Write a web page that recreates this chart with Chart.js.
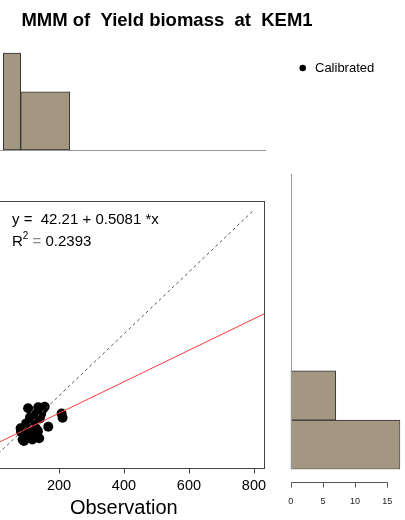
<!DOCTYPE html>
<html>
<head>
<meta charset="utf-8">
<script src="https://cdn.jsdelivr.net/npm/chart.js@4.4.1/dist/chart.umd.min.js"></script>
<style>
  html, body { margin: 0; padding: 0; background: #fff; width: 405px; height: 520px; overflow: hidden; position: relative; }
  canvas { position: absolute; top: 0; }
  #topHist, #rightHist { left: 0; }
  #main { left: -40px; }
</style>
</head>
<body>
<canvas id="topHist" width="405" height="520"></canvas>
<canvas id="rightHist" width="405" height="520"></canvas>
<canvas id="main" width="445" height="520"></canvas>
<script>
// Observed vs simulated yield biomass
const observed  = [105, 136, 150, 156, 208, 211, 131, 145, 141, 121, 111,  99, 129, 167,  82, 101, 116, 135,  83,  95,  92,  88, 118, 139];
const simulated = [160, 163, 157, 165, 143, 129, 143, 141, 127, 119, 131, 111,  95, 100,  95,  89,  79,  86,  84,  68,  54,  59,  59,  63];

// Linear fit reported on the plot
const fitIntercept = 42.21;
const fitSlope = 0.5081;
const fitR2 = 0.2393;

// 1:1 reference segment
const identityRange = [0, 800];

// Axis ticks
const xTicks = [0, 200, 400, 600, 800];
const countTicks = [0, 5, 10, 15];

// Marginal histograms (bin edges and counts)
const topBinEdges = [0, 100, 200, 300, 400, 500, 600];
const topCounts   = [15, 9, 0, 0, 0, 0];
const rightBinEdges = [0, 100, 200, 300, 400, 500, 600];
const rightCounts   = [17, 7, 0, 0, 0, 0];

const titleText = 'MMM of  Yield biomass  at  KEM1';
const xTitle = 'Observation';
const seriesName = 'Calibrated';

const FONT = '"Liberation Sans", Arial, Helvetica, sans-serif';
const BAR_FILL = '#a39781';
const BAR_EDGE = '#333';

function binBars(edges, counts, horizontal) {
  const out = [];
  counts.forEach((c, i) => {
    if (c > 0) {
      const mid = (edges[i] + edges[i + 1]) / 2;
      out.push(horizontal ? { x: c, y: mid } : { x: mid, y: c });
    }
  });
  return out;
}

function edgeTicks(edges) {
  return function (scale) { scale.ticks = edges.map(v => ({ value: v })); };
}

const common = {
  responsive: false,
  devicePixelRatio: 1,
  animation: false,
  events: [],
  plugins: { legend: { display: false }, tooltip: { enabled: false }, title: { display: false } }
};

// ---- top histogram (observations) ----
new Chart(document.getElementById('topHist'), {
  type: 'bar',
  data: {
    datasets: [{
      data: binBars(topBinEdges, topCounts, false),
      backgroundColor: BAR_FILL,
      borderColor: BAR_EDGE,
      borderWidth: 1,
      borderSkipped: false,
      barPercentage: 1,
      categoryPercentage: 1,
      clip: { left: 0, top: 4, right: 4, bottom: 4 }
    }]
  },
  options: Object.assign({}, common, {
    layout: { padding: { left: 3, right: 139, top: 53, bottom: 370 } },
    scales: {
      x: { type: 'linear', min: 64, max: 600, offset: false, display: false, afterBuildTicks: edgeTicks(topBinEdges) },
      y: { type: 'linear', min: 0, max: 15, display: false }
    }
  }),
  plugins: [{
    id: 'topHistDecor',
    afterDatasetsDraw(chart) {
      const ctx = chart.ctx, ca = chart.chartArea;
      ctx.save();
      // edge where the first bin is cut by the plot region
      chart.getDatasetMeta(0).data.forEach(bar => {
        const p = bar.getProps(['x', 'y', 'base', 'width'], true);
        if (p.x - p.width / 2 < ca.left) {
          ctx.fillStyle = BAR_EDGE;
          ctx.fillRect(Math.round(ca.left), p.y, 1, p.base - p.y);
        }
      });
      // baseline
      ctx.strokeStyle = '#9a9a9a';
      ctx.lineWidth = 1;
      ctx.beginPath();
      ctx.moveTo(0, Math.round(ca.bottom) + 0.5);
      ctx.lineTo(ca.right, Math.round(ca.bottom) + 0.5);
      ctx.stroke();
      ctx.restore();
    }
  }]
});

// ---- right histogram (simulations) ----
new Chart(document.getElementById('rightHist'), {
  type: 'bar',
  data: {
    datasets: [{
      data: binBars(rightBinEdges, rightCounts, true),
      backgroundColor: BAR_FILL,
      borderColor: BAR_EDGE,
      borderWidth: 1,
      borderSkipped: false,
      barPercentage: 1,
      categoryPercentage: 1
    }]
  },
  options: Object.assign({}, common, {
    indexAxis: 'y',
    layout: { padding: { left: 290.7, right: 4.8, top: 174, bottom: 50.7 } },
    scales: {
      x: { type: 'linear', min: 0, max: 17, display: false },
      y: { type: 'linear', min: 0, max: 600, offset: false, display: false, afterBuildTicks: edgeTicks(rightBinEdges) }
    }
  }),
  plugins: [{
    id: 'rightHistDecor',
    afterDraw(chart) {
      const ctx = chart.ctx, ca = chart.chartArea, xs = chart.scales.x;
      ctx.save();
      ctx.lineWidth = 1;
      ctx.strokeStyle = '#9a9a9a';
      const lx = Math.round(ca.left) + 0.5;
      ctx.beginPath();
      ctx.moveTo(lx, ca.top);
      ctx.lineTo(lx, ca.bottom);
      ctx.stroke();
      // count axis
      const ay = Math.round(ca.bottom) + 13.5;
      const x0 = Math.round(xs.getPixelForValue(countTicks[0])) + 0.5;
      const x1 = Math.round(xs.getPixelForValue(countTicks[countTicks.length - 1])) + 0.5;
      ctx.strokeStyle = '#555';
      ctx.beginPath();
      ctx.moveTo(x0, ay);
      ctx.lineTo(x1, ay);
      countTicks.forEach(v => {
        const px = Math.round(xs.getPixelForValue(v)) + 0.5;
        ctx.moveTo(px, ay);
        ctx.lineTo(px, ay + 5);
      });
      ctx.stroke();
      ctx.fillStyle = '#222';
      ctx.font = '9px ' + FONT;
      ctx.textAlign = 'center';
      ctx.textBaseline = 'middle';
      countTicks.forEach(v => ctx.fillText(String(v), xs.getPixelForValue(v), ay + 19));
      ctx.restore();
    }
  }]
});

// ---- main scatter ----
const xLimits = [-32, 831];
const yLimits = [-33, 829];
const points = observed.map((o, i) => ({ x: o, y: simulated[i] }));

new Chart(document.getElementById('main'), {
  type: 'scatter',
  data: {
    datasets: [
      {
        type: 'line',
        data: identityRange.map(v => ({ x: v, y: v })),
        borderColor: '#555',
        borderWidth: 1,
        borderDash: [3, 3],
        pointRadius: 0,
        fill: false
      },
      {
        type: 'line',
        data: xLimits.map(v => ({ x: v, y: fitIntercept + fitSlope * v })),
        borderColor: '#ff3a3a',
        borderWidth: 1,
        pointRadius: 0,
        fill: false,
        clip: 0
      },
      {
        type: 'scatter',
        label: seriesName,
        data: points,
        backgroundColor: '#000',
        borderColor: '#000',
        borderWidth: 0,
        pointRadius: 5
      }
    ]
  },
  options: Object.assign({}, common, {
    layout: { padding: { left: 23.6, right: 141, top: 201, bottom: 52 } },
    scales: {
      x: { type: 'linear', min: xLimits[0], max: xLimits[1], display: false },
      y: { type: 'linear', min: yLimits[0], max: yLimits[1], display: false }
    }
  }),
  plugins: [{
    id: 'mainDecor',
    afterDraw(chart) {
      const ctx = chart.ctx, ca = chart.chartArea, xs = chart.scales.x;
      const off = 40; // canvas starts 40px left of the page
      ctx.save();
      // plot frame
      ctx.strokeStyle = '#444';
      ctx.lineWidth = 1;
      ctx.strokeRect(Math.round(ca.left) + 0.5, Math.round(ca.top) + 0.5,
                     Math.round(ca.right - ca.left), Math.round(ca.bottom - ca.top));
      // x ticks
      const by = Math.round(ca.bottom) + 0.5;
      ctx.beginPath();
      xTicks.forEach(v => {
        const px = Math.round(xs.getPixelForValue(v)) + 0.5;
        ctx.moveTo(px, by);
        ctx.lineTo(px, by + 5);
      });
      ctx.stroke();
      ctx.fillStyle = '#000';
      ctx.textAlign = 'center';
      ctx.textBaseline = 'middle';
      ctx.font = '14.5px ' + FONT;
      xTicks.forEach(v => ctx.fillText(String(v), xs.getPixelForValue(v), ca.bottom + 18));
      // x title
      ctx.font = '20px ' + FONT;
      ctx.fillText(xTitle, (ca.left + ca.right) / 2, ca.bottom + 40);

      // fit annotation
      ctx.textAlign = 'left';
      ctx.textBaseline = 'alphabetic';
      ctx.font = '15px ' + FONT;
      const tx = 12 + off;
      ctx.fillText('y =  ' + fitIntercept.toFixed(2) + ' + ' + fitSlope.toFixed(4) + ' *x', tx, 224);
      let cx = tx;
      ctx.fillText('R', cx, 246);
      cx += ctx.measureText('R').width;
      ctx.font = '10px ' + FONT;
      ctx.fillText('2', cx, 239);
      cx += ctx.measureText('2').width;
      ctx.font = '15px ' + FONT;
      ctx.fillStyle = '#8a8a8a';
      ctx.fillText(' = ', cx, 246);
      cx += ctx.measureText(' = ').width;
      ctx.fillStyle = '#000';
      ctx.fillText(fitR2.toFixed(4), cx, 246);

      // title
      ctx.font = 'bold 18.5px ' + FONT;
      ctx.textAlign = 'center';
      ctx.fillText(titleText, 167 + off, 26);

      // legend
      ctx.beginPath();
      ctx.arc(302.7 + off, 68, 3.3, 0, Math.PI * 2);
      ctx.fill();
      ctx.font = '13px ' + FONT;
      ctx.textAlign = 'left';
      ctx.textBaseline = 'middle';
      ctx.fillText(seriesName, 315 + off, 68.5);
      ctx.restore();
    }
  }]
});
</script>
</body>
</html>
